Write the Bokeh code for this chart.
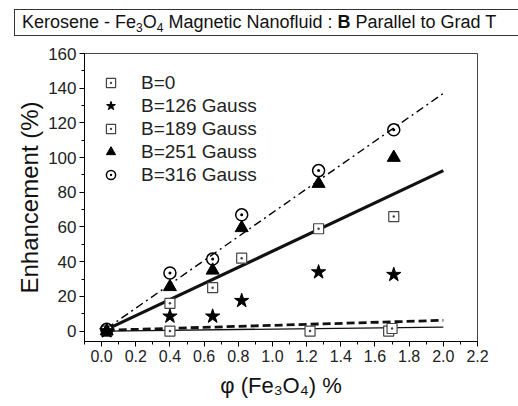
from bokeh.plotting import figure
from bokeh.models import (Range1d, Legend, LegendItem, SingleIntervalTicker,
                          PrintfTickFormatter, Div)
from bokeh.layouts import column
from bokeh.embed import file_html
from bokeh.resources import INLINE

# ---------------- data ----------------
phi_b0 = [0.03, 0.40, 1.22, 1.68, 1.70]
enh_b0 = [0.0, 0.0, 0.0, 0.0, 1.5]

phi = [0.03, 0.40, 0.65, 0.82, 1.27, 1.71]
enh_b126 = [0.0, 8.5, 8.5, 17.5, 34.0, 32.5]
enh_b189 = [0.0, 16.0, 25.0, 42.0, 59.0, 66.0]
enh_b251 = [0.0, 25.5, 35.0, 59.5, 85.0, 100.0]
enh_b316 = [1.0, 33.5, 41.5, 67.0, 92.5, 116.0]

fit_phi = [0.03, 2.0]
fit_dashdot = [1.5, 137.0]
fit_thick = [1.0, 92.5]
fit_dashed = [0.5, 6.2]
fit_thin = [0.0, 2.3]

legend_labels = ["B=0", "B=126 Gauss", "B=189 Gauss", "B=251 Gauss", "B=316 Gauss"]
x_label = "\u03c6 (Fe\u2083O\u2084) %"
y_label = "Enhancement (%)"
x_ticks_interval = 0.2
y_ticks_interval = 20

FONT = "Liberation Sans"

# ---------------- title (boxed, with sub-/bold text) ----------------
sub = 'style="font-size:12px; vertical-align:-4px; line-height:0"'
title_html = (
    '<div style="position:relative; left:14px; top:9px; width:560px; height:27px; '
    'box-sizing:border-box; border:1px solid #333; padding-left:7px; '
    f"font-family:'{FONT}',Arial,sans-serif; font-size:18px; line-height:24px; "
    'white-space:nowrap; color:#111;">'
    f'Kerosene - Fe<sub {sub}>3</sub>O<sub {sub}>4</sub> '
    'Magnetic Nanofluid : <b>B</b> Parallel to Grad T'
    '</div>'
)
title_div = Div(text=title_html, width=518, height=38, margin=0,
                styles={"overflow": "hidden"})

# ---------------- figure ----------------
W, H = 518, 368
p = figure(width=W, height=H, x_range=Range1d(-0.1, 2.2), y_range=Range1d(-6, 160),
           output_backend="svg", toolbar_location=None,
           min_border_left=84, min_border_right=41, min_border_top=15, min_border_bottom=65)
p.grid.visible = False
p.outline_line_color = "#444444"
p.outline_line_width = 1
p.background_fill_color = "white"
p.border_fill_color = "white"

for ax in (p.xaxis[0], p.yaxis[0]):
    ax.major_tick_in = 0
    ax.major_tick_out = 5
    ax.minor_tick_in = 0
    ax.minor_tick_out = 3
    ax.axis_line_color = "black"
    ax.major_tick_line_color = "black"
    ax.minor_tick_line_color = "black"
    ax.major_label_text_font = FONT
    ax.major_label_text_font_size = "16px"
    ax.major_label_text_color = "#222222"
    ax.major_label_standoff = 3
    ax.axis_label_text_font = FONT
    ax.axis_label_text_font_style = "normal"
    ax.axis_label_text_color = "#111111"

p.yaxis.major_label_text_font_size = "17px"
p.xaxis.ticker = SingleIntervalTicker(interval=x_ticks_interval, num_minor_ticks=2)
p.yaxis.ticker = SingleIntervalTicker(interval=y_ticks_interval, num_minor_ticks=2)
p.xaxis.formatter = PrintfTickFormatter(format="%.1f")

p.xaxis.axis_label = x_label
p.xaxis.axis_label_text_font_size = "22px"
p.xaxis.axis_label_standoff = 8
p.yaxis.axis_label = y_label
p.yaxis.axis_label_text_font_size = "24px"
p.yaxis.axis_label_standoff = 2

# fit lines
p.line(fit_phi, fit_dashdot, line_color="black", line_width=1.4, line_dash="8 4 2 4")
p.line(fit_phi, fit_thick, line_color="#111111", line_width=3.2)
p.line(fit_phi, fit_dashed, line_color="#111111", line_width=2.8, line_dash="8 4")
p.line(fit_phi, fit_thin, line_color="#111111", line_width=1.4)

# markers
r0 = p.scatter(phi_b0, enh_b0, marker="square_dot", size=10, line_color="#444444",
               fill_color="white", line_width=1.2)
r189 = p.scatter(phi, enh_b189, marker="square_dot", size=10, line_color="#444444",
                 fill_color="white", line_width=1.2)
r126 = p.scatter(phi, enh_b126, marker="star", size=15, line_color="black", fill_color="black")
r251 = p.scatter(phi, enh_b251, marker="triangle", size=13, line_color="black", fill_color="black")
r316 = p.scatter(phi, enh_b316, marker="circle_dot", size=12, line_color="black",
                 fill_color=None, line_width=1.5)

legend = Legend(items=[LegendItem(label=legend_labels[0], renderers=[r0]),
                       LegendItem(label=legend_labels[1], renderers=[r126]),
                       LegendItem(label=legend_labels[2], renderers=[r189]),
                       LegendItem(label=legend_labels[3], renderers=[r251]),
                       LegendItem(label=legend_labels[4], renderers=[r316])],
                location=(15, 155))
legend.glyph_width = 23
legend.glyph_height = 23
legend.label_height = 23
legend.label_standoff = 19
legend.spacing = 0
legend.padding = 12
legend.margin = 0
legend.border_line_color = None
legend.background_fill_alpha = 0
legend.label_text_font = FONT
legend.label_text_font_size = "19px"
legend.label_text_color = "#222222"
p.add_layout(legend)

layout = column(title_div, p, spacing=0)
open("out.html", "w").write(file_html(layout, INLINE))
